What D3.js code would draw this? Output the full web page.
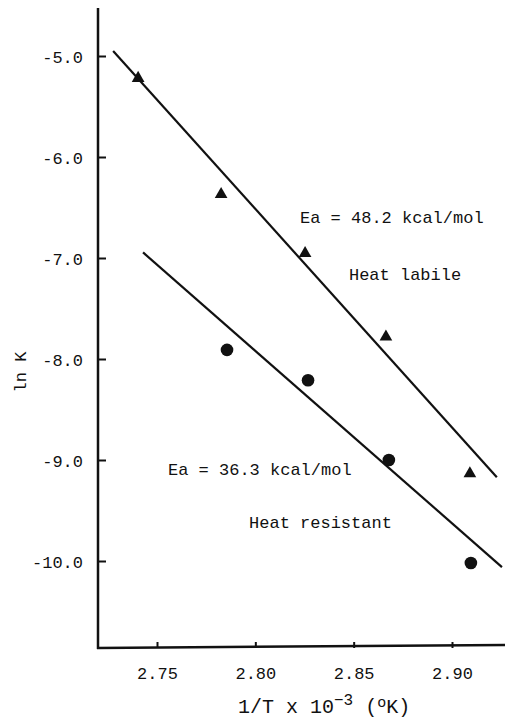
<!DOCTYPE html>
<html>
<head>
<meta charset="utf-8">
<script src="https://cdn.jsdelivr.net/npm/d3@7/dist/d3.min.js"></script>
<style>
  html, body { margin: 0; padding: 0; background: #fff; }
  svg { display: block; }
  text { font-family: "Liberation Mono", "DejaVu Sans Mono", monospace; fill: #111; }
</style>
</head>
<body>
<div id="chart"></div>
<script>
// ---- data ----
const xTicks = [2.75, 2.80, 2.85, 2.90];
const yTicks = [-5.0, -6.0, -7.0, -8.0, -9.0, -10.0];

const labileX = [2.7404, 2.7826, 2.8253, 2.8664, 2.9091];
const labileY = [-5.21, -6.36, -6.945, -7.77, -9.125];

const resistantX = [2.7856, 2.8268, 2.8679, 2.9096];
const resistantY = [-7.91, -8.21, -9.00, -10.02];

const labileLineX = [2.7277, 2.9228];
const labileLineY = [-4.95, -9.17];
const resistantLineX = [2.7429, 2.9254];
const resistantLineY = [-6.945, -10.06];

const labels = ["Ea = 48.2 kcal/mol", "Heat labile", "Ea = 36.3 kcal/mol", "Heat resistant"];
const labelX = [2.8227, 2.8476, 2.7556, 2.7968];
const labelY = [-6.653, -7.218, -9.149, -9.673];

// ---- layout ----
const W = 506, H = 718;
const svg = d3.select("#chart").append("svg").attr("width", W).attr("height", H);

const axisX = 98, axisY = 648;
const x = d3.scaleLinear().domain([2.75, 2.90]).range([157, 452]);
const y = d3.scaleLinear().domain([-5, -10]).range([56, 561]);

// y axis
const yAxis = d3.axisRight(y).tickValues(yTicks).tickSize(8)
  .tickFormat(d => d3.format(".1f")(d).replace("\u2212", "-"));
const gy = svg.append("g").attr("transform", `translate(${axisX},0)`).call(yAxis);
gy.select(".domain").remove();
gy.selectAll(".tick line").attr("stroke", "#111").attr("stroke-width", 2);
gy.selectAll(".tick text")
  .attr("x", -15).attr("dy", "0.36em")
  .attr("text-anchor", "end")
  .style("font-size", "17px").style("font-family", "Liberation Mono");
svg.append("line").attr("x1", axisX).attr("x2", axisX).attr("y1", 8).attr("y2", axisY + 1)
  .attr("stroke", "#111").attr("stroke-width", 2.5);

// x axis
const xAxis = d3.axisTop(x).tickValues(xTicks).tickSize(6).tickFormat(d3.format(".2f"));
const gx = svg.append("g").attr("transform", `translate(0,${axisY})`).call(xAxis);
gx.select(".domain").remove();
gx.selectAll(".tick line").attr("stroke", "#111").attr("stroke-width", 2);
gx.selectAll(".tick text")
  .attr("y", 31).attr("dy", 0)
  .attr("text-anchor", "middle")
  .style("font-size", "17px").style("font-family", "Liberation Mono");
svg.append("line").attr("x1", axisX - 1).attr("x2", 505).attr("y1", axisY).attr("y2", axisY - 3)
  .attr("stroke", "#111").attr("stroke-width", 2.5);

// axis titles
const xt = svg.append("text").attr("x", 238).attr("y", 713)
  .style("font-size", "20px").style("font-family", "Liberation Mono");
xt.append("tspan").text("1/T x 10");
xt.append("tspan").attr("dy", -8).style("font-size", "16px").text("\u22123");
xt.append("tspan").attr("dy", 8).text(" (");
xt.append("tspan").attr("dy", -6).style("font-size", "15px").text("o");
xt.append("tspan").attr("dy", 6).text("K)");

svg.append("text")
  .attr("transform", "translate(26,372) rotate(-90)")
  .attr("text-anchor", "middle")
  .style("font-size", "17px").style("font-family", "Liberation Mono")
  .text("ln K");

// fit lines
const lineGen = d3.line().x(d => x(d[0])).y(d => y(d[1]));
svg.append("path").datum(d3.zip(labileLineX, labileLineY))
  .attr("d", lineGen).attr("fill", "none").attr("stroke", "#111").attr("stroke-width", 2.2);
svg.append("path").datum(d3.zip(resistantLineX, resistantLineY))
  .attr("d", lineGen).attr("fill", "none").attr("stroke", "#111").attr("stroke-width", 2.2);

// points
const tri = d3.symbol().type(d3.symbolTriangle).size(70);
svg.append("g").selectAll("path").data(d3.zip(labileX, labileY)).join("path")
  .attr("d", tri).attr("transform", d => `translate(${x(d[0])},${y(d[1]) + 1})`)
  .attr("fill", "#111");
svg.append("g").selectAll("circle").data(d3.zip(resistantX, resistantY)).join("circle")
  .attr("cx", d => x(d[0])).attr("cy", d => y(d[1])).attr("r", 6.3)
  .attr("fill", "#111");

// annotations
svg.append("g").selectAll("text").data(d3.range(labels.length)).join("text")
  .attr("x", i => x(labelX[i])).attr("y", i => y(labelY[i]))
  .style("font-size", "17px").style("font-family", "Liberation Mono")
  .text(i => labels[i]);
</script>
</body>
</html>
